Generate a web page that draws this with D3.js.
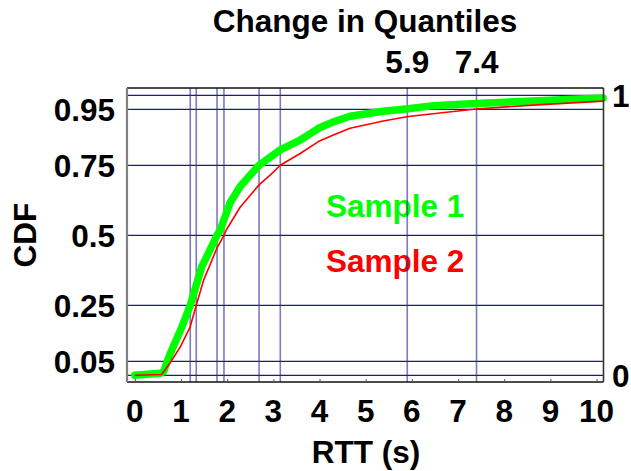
<!DOCTYPE html>
<html>
<head>
<meta charset="utf-8">
<script src="https://cdn.jsdelivr.net/npm/d3@7/dist/d3.min.js"></script>
<style>
  html, body { margin: 0; padding: 0; background: #fff; }
  svg text { font-family: "Liberation Sans", Arial, sans-serif; font-weight: bold; }
</style>
</head>
<body>
<svg id="chart" width="631" height="471"></svg>
<script>
// ---- data ----
const sample1X = [0, 0.55, 0.62, 0.76, 1.0, 1.2, 1.45, 1.56, 1.78, 1.85, 2.06, 2.28, 2.69, 3.15, 3.58, 4.0, 4.3, 4.66, 5.38, 5.92, 6.46, 7.39, 8.62, 10.14];
const sample1Y = [0, 0.007, 0.012, 0.075, 0.165, 0.25, 0.388, 0.425, 0.5, 0.519, 0.615, 0.674, 0.75, 0.805, 0.84, 0.884, 0.905, 0.925, 0.943, 0.952, 0.963, 0.971, 0.98, 0.99];
const sample2X = [0, 0.58, 0.76, 0.98, 1.2, 1.33, 1.49, 1.78, 1.93, 1.98, 2.28, 2.69, 2.93, 3.15, 3.58, 4.0, 4.3, 4.66, 5.38, 5.92, 7.39, 8.62, 10.14];
const sample2Y = [0, 0.003, 0.044, 0.10, 0.174, 0.25, 0.34, 0.455, 0.5, 0.519, 0.60, 0.68, 0.715, 0.75, 0.792, 0.837, 0.858, 0.882, 0.908, 0.924, 0.951, 0.965, 0.979];
const quantileLevels = [0, 0.05, 0.25, 0.5, 0.75, 0.95, 1];
const quantileValues = [1.2, 1.33, 1.78, 1.93, 2.69, 3.15, 5.9, 7.4];
const topLabels = [5.9, 7.4];
const leftTickLabels = [0.95, 0.75, 0.5, 0.25, 0.05];
const rightTickLabels = [1, 0];
const xTicks = [0, 1, 2, 3, 4, 5, 6, 7, 8, 9, 10];
const seriesNames = ["Sample 1", "Sample 2"];
const seriesColors = ["#00ff00", "#ff0000"];

// ---- layout ----
const svg = d3.select("#chart");
const L = 127, R = 603.5, T = 88, B = 382;
const x = d3.scaleLinear().domain([-0.17, 10.15]).range([L, R]);
const y = d3.scaleLinear().domain([-0.024, 1.026]).range([B, T]);
const FS = 31.5;
const off = 11.3;

// series labels (under the grid lines)
svg.append("text").attr("x", 326).attr("y", 217).attr("font-size", FS)
  .attr("fill", seriesColors[0]).text(seriesNames[0]);
svg.append("text").attr("x", 326).attr("y", 272).attr("font-size", FS)
  .attr("fill", seriesColors[1]).text(seriesNames[1]);

// horizontal quantile lines
svg.append("g").selectAll("line").data(quantileLevels).join("line")
  .attr("x1", L).attr("x2", R)
  .attr("y1", d => y(d)).attr("y2", d => y(d))
  .attr("stroke", "#1c1c7c").attr("stroke-width", 1.3);

// vertical quantile lines
svg.append("g").selectAll("line").data(quantileValues).join("line")
  .attr("x1", d => x(d)).attr("x2", d => x(d))
  .attr("y1", T).attr("y2", B)
  .attr("stroke", "#2a2a96").attr("stroke-opacity", 0.62).attr("stroke-width", 1.6);

// curves
const line = d3.line().x(d => x(d[0])).y(d => y(d[1]));
svg.append("path").datum(d3.zip(sample1X, sample1Y))
  .attr("d", line).attr("fill", "none").attr("stroke", seriesColors[0])
  .attr("stroke-width", 7.5).attr("stroke-linejoin", "round").attr("stroke-linecap", "round");
svg.append("path").datum(d3.zip(sample2X, sample2Y))
  .attr("d", line).attr("fill", "none").attr("stroke", seriesColors[1])
  .attr("stroke-width", 1.6).attr("stroke-linejoin", "round");

// frame
svg.append("line").attr("x1", L).attr("x2", R).attr("y1", T).attr("y2", T).attr("stroke", "#111").attr("stroke-width", 1.4);
svg.append("line").attr("x1", L).attr("x2", R).attr("y1", B).attr("y2", B).attr("stroke", "#111").attr("stroke-width", 1.4);
svg.append("line").attr("x1", R).attr("x2", R).attr("y1", T).attr("y2", B).attr("stroke", "#333").attr("stroke-width", 1.6);
svg.append("line").attr("x1", L).attr("x2", L).attr("y1", T).attr("y2", B).attr("stroke", "#808080").attr("stroke-width", 2.2);

// bottom axis (ticks inward) via d3 axis
const xAxis = d3.axisBottom(x).tickValues(xTicks).tickSize(-3).tickFormat("");
const gx = svg.append("g").attr("transform", `translate(0,${B})`).call(xAxis);
gx.select(".domain").remove();
gx.selectAll(".tick line").attr("stroke", "#555");

// x tick labels
svg.append("g").selectAll("text").data(xTicks).join("text")
  .attr("x", d => x(d)).attr("y", 422).attr("text-anchor", "middle")
  .attr("font-size", FS).attr("fill", "#000").text(d => d);

// left tick labels
svg.append("g").selectAll("text").data(leftTickLabels).join("text")
  .attr("x", 115).attr("y", d => y(d) + off).attr("text-anchor", "end")
  .attr("font-size", FS).attr("fill", "#000").text(d => d);

// right tick labels
svg.append("g").selectAll("text").data(rightTickLabels).join("text")
  .attr("x", 612).attr("y", d => y(d) + off).attr("text-anchor", "start")
  .attr("font-size", FS).attr("fill", "#000").text(d => d);

// top quantile labels
svg.append("g").selectAll("text").data(topLabels).join("text")
  .attr("x", d => x(d)).attr("y", 73).attr("text-anchor", "middle")
  .attr("font-size", FS).attr("fill", "#000").text(d => d);

// title
svg.append("text").attr("x", 365).attr("y", 32).attr("text-anchor", "middle")
  .attr("font-size", FS).attr("fill", "#000").text("Change in Quantiles");

// axis titles
svg.append("text").attr("x", 366).attr("y", 463).attr("text-anchor", "middle")
  .attr("font-size", FS).attr("fill", "#000").text("RTT (s)");
svg.append("text").attr("transform", "translate(36,235) rotate(-90)")
  .attr("text-anchor", "middle").attr("font-size", FS).attr("fill", "#000").text("CDF");
</script>
</body>
</html>
